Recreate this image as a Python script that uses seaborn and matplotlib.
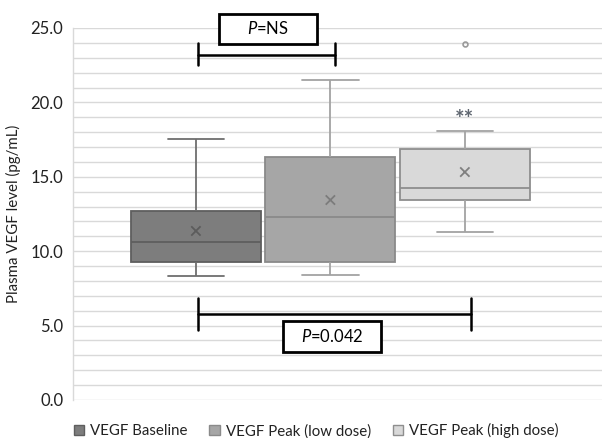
import numpy as np
import pandas as pd
import matplotlib
matplotlib.use("Agg")
import matplotlib.pyplot as plt
from matplotlib.patches import Rectangle, Patch
import seaborn as sns

# ---- data ----
groups = ["VEGF Baseline", "VEGF Peak (low dose)", "VEGF Peak (high dose)"]
whisker_low = [8.31, 8.40, 11.29]
q1 = [9.30, 9.27, 13.42]
median = [10.60, 12.30, 14.23]
q3 = [12.72, 16.35, 16.89]
whisker_high = [17.52, 21.50, 18.08]
outliers = [[], [], [23.95]]
means = [11.36, 13.44, 15.32]
yticks = [0.0, 5.0, 10.0, 15.0, 20.0, 25.0]

fills = ["#7d7d7d", "#a6a6a6", "#d9d9d9"]
edges = ["#5e5e5e", "#8a8a8a", "#8e8e8e"]
whisk = ["#6e6e6e", "#a3a3a3", "#a3a3a3"]
meanc = ["#5c5c5c", "#7c7c7c", "#7f7f7f"]

# table of values reproducing the five-number summaries exactly
rows = []
for g, a, b, c, d, e, o in zip(groups, whisker_low, q1, median, q3, whisker_high, outliers):
    for v in [a, b, b, c, c, d, d, e] + list(o):
        rows.append({"group": g, "value": v})
df = pd.DataFrame(rows)
dm = pd.DataFrame({"group": groups, "mean": means})

sns.set_theme(style="white")
plt.rcParams["font.family"] = ["Lato", "DejaVu Sans"]
plt.rcParams["mathtext.fontset"] = "custom"
plt.rcParams["mathtext.rm"] = "Lato"
plt.rcParams["mathtext.it"] = "Lato:italic"

fig = plt.figure(figsize=(6.02, 4.38), dpi=100)
ax = fig.add_axes([73 / 602, 1 - 400 / 438, 1 - 73 / 602, 372 / 438])

# grid lines every 1.0
for yv in np.arange(0, 26, 1.0):
    ax.axhline(yv, color="#d9d9d9", lw=1.0, zorder=0)

sns.boxplot(data=df, x="group", y="value", hue="group", order=groups,
            hue_order=groups, palette=fills, dodge=False, width=0.965,
            whis=1.5, linewidth=1.2, linecolor="#777777", legend=False,
            flierprops=dict(marker="o", markerfacecolor="none",
                            markeredgecolor="#9a9a9a", markersize=3.5,
                            markeredgewidth=1.2),
            ax=ax, zorder=2)

# per-box styling
for i, cont in enumerate(ax.containers):
    for b in cont.boxes:
        b.set_edgecolor(edges[i])
        b.set_linewidth(1.3)
    for m in cont.medians:
        m.set_color(edges[i])
        m.set_linewidth(1.3)
    for w in cont.whiskers:
        w.set_color(whisk[i])
        w.set_linewidth(1.3)
    for c in cont.caps:
        c.set_color(whisk[i])
        c.set_linewidth(1.3)
        c.set_xdata([i - 0.21, i + 0.21])

sns.scatterplot(data=dm, x="group", y="mean", hue="group", palette=meanc,
                marker="x", s=45, linewidth=1.3, legend=False, ax=ax, zorder=4)

ax.set_xlim(-0.914, 3.02)
ax.set_ylim(0, 25)
ax.set_yticks(yticks)
ax.set_yticklabels([f"{v:.1f}" for v in yticks], fontsize=12, color="#222222")
ax.set_xticks([])
ax.set_xlabel("")
ax.set_ylabel("Plasma VEGF level (pg/mL)", fontsize=10.8, color="#222222", labelpad=7)
ax.tick_params(axis="y", length=0, pad=7)
for s in ["top", "right", "bottom"]:
    ax.spines[s].set_visible(False)
ax.spines["left"].set_color("#d9d9d9")
ax.spines["left"].set_linewidth(1.0)

# significance brackets
kw = dict(color="black", lw=1.8, clip_on=False, zorder=5)
ax.plot([0.015, 1.033], [23.17, 23.17], **kw)
ax.plot([0.015, 0.015], [22.5, 24.0], **kw)
ax.plot([1.033, 1.033], [22.5, 24.0], **kw)
ax.add_patch(Rectangle((0.171, 23.95), 0.729, 2.02, facecolor="white",
                       edgecolor="black", lw=2.0, clip_on=False, zorder=5))
ax.text(0.535, 24.96, r"$\mathit{P}$=NS", ha="center", va="center",
        fontsize=12, color="black", zorder=6, clip_on=False)

ax.plot([0.015, 2.045], [5.80, 5.80], **kw)
ax.plot([0.015, 0.015], [4.70, 6.83], **kw)
ax.plot([2.045, 2.045], [4.70, 6.83], **kw)
ax.add_patch(Rectangle((0.647, 3.25), 0.728, 2.08, facecolor="white",
                       edgecolor="black", lw=2.0, clip_on=False, zorder=5))
ax.text(1.011, 4.29, r"$\mathit{P}$=0.042", ha="center", va="center",
        fontsize=12, color="black", zorder=6)

ax.text(2.0, 18.85, "**", ha="center", va="center", fontsize=16,
        fontweight="bold", color="#5f6670", zorder=6)

# legend
handles = [Patch(facecolor=f, edgecolor=e, lw=1.0) for f, e in zip(fills, edges)]
ax.legend(handles, groups, loc="center left", bbox_to_anchor=((74 - 73) / 529, -0.083),
          ncol=3, frameon=False, fontsize=10.8, handlelength=0.68,
          handleheight=0.68, handletextpad=0.4, columnspacing=1.45,
          labelcolor="#222222", borderpad=0.0, borderaxespad=0.0)

fig.savefig("out.png", dpi=100)
